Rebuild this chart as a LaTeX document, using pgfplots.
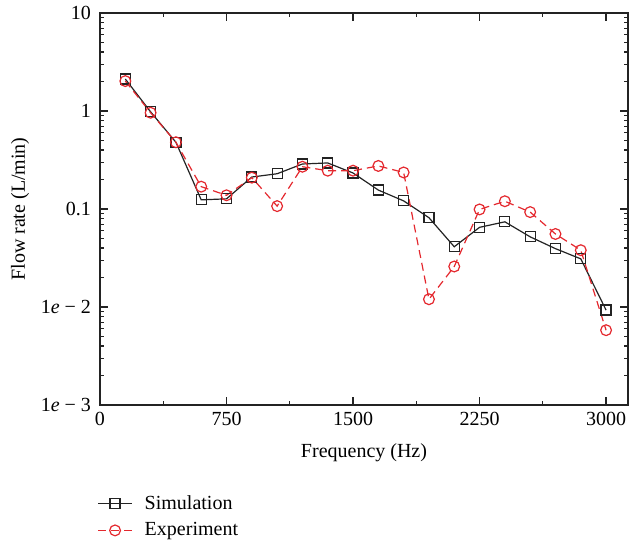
\documentclass[border=0pt]{standalone}
\usepackage{fontspec}
\setmainfont{Liberation Serif}
\usepackage{pgfplots}
\pgfplotsset{compat=1.18}
\definecolor{expred}{RGB}{228,40,46}
\definecolor{simblack}{RGB}{35,35,35}
\begin{document}
\begin{tikzpicture}
\begin{axis}[
  scale only axis,
  width=264pt, height=196pt,
  ymode=log,
  xmin=0, xmax=3130,
  ymin=1e-3, ymax=10,
  xtick={0,750,1500,2250,3000},
  minor xtick={375,1125,1875,2625},
  ytick={1e-3,1e-2,0.1,1,10},
  yticklabels={1\textit{e} − 3,1\textit{e} − 2,0.1,1,10},
  tick align=inside,
  major tick length=4pt,
  minor tick length=2pt,
  /pgf/number format/assume math mode=true,
  /pgf/number format/1000 sep={},
  xticklabel style={font=\normalsize},
  yticklabel style={font=\normalsize, xshift=-1pt},
  xlabel={Frequency (Hz)},
  ylabel={Flow rate (L/min)},
  xlabel style={yshift=-2pt},
  ylabel style={yshift=-1pt},
  axis line style={line width=0.7pt, simblack},
  every tick/.style={simblack, line width=0.6pt},
  legend style={at={(0,0)}, anchor=north west, yshift=-41pt, xshift=-4.5pt,
    draw=none, fill=none, row sep=1pt, column sep=4pt, font=\normalsize,
    nodes={inner sep=2pt}},
  legend cell align=left,
]
\addplot[simblack, line width=0.6pt, mark=square, mark size=2.5pt,
  mark options={fill=white, solid}] coordinates {
(150,2.12) (300,0.98) (450,0.48) (600,0.124) (750,0.127)
(900,0.212) (1050,0.229) (1200,0.288) (1350,0.295) (1500,0.233)
(1650,0.156) (1800,0.121) (1950,0.0815) (2100,0.0412) (2250,0.065)
(2400,0.074) (2550,0.052) (2700,0.0394) (2850,0.031) (3000,0.0093)
};
\addlegendentry{Simulation}
\addplot[expred, line width=0.6pt, dash pattern=on 4pt off 2.5pt, mark=o, mark size=2.7pt,
  mark options={fill=white, solid}] coordinates {
(150,2.02) (300,0.96) (450,0.48) (600,0.169) (750,0.138)
(900,0.209) (1050,0.107) (1200,0.270) (1350,0.246) (1500,0.246)
(1650,0.275) (1800,0.236) (1950,0.0120) (2100,0.0259) (2250,0.099)
(2400,0.12) (2550,0.093) (2700,0.0556) (2850,0.038) (3000,0.0058)
};
\addlegendentry{Experiment}
\end{axis}
\pgfresetboundingbox
\path (-50pt,-69.5pt) rectangle (265pt,202.5pt);
\end{tikzpicture}
\end{document}
